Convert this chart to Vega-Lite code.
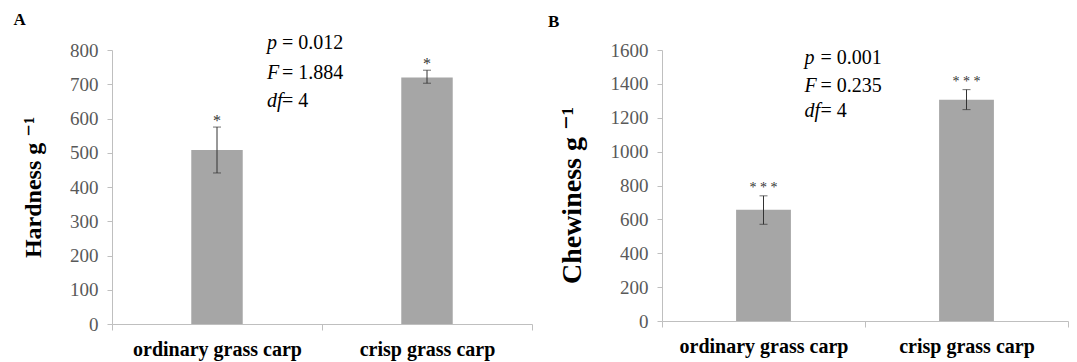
{
  "$schema": "https://vega.github.io/schema/vega-lite/v6.json",
  "background": "white",
  "padding": {"left": 13, "top": 11, "right": 5, "bottom": 2},
  "spacing": 15,
  "config": {
    "view": {"stroke": null},
    "font": "Liberation Serif, DejaVu Serif, serif",
    "title": {"font": "Liberation Serif, DejaVu Serif, serif", "fontSize": 17, "fontWeight": "bold", "anchor": "start", "frame": "bounds", "color": "black"},
    "axisX": {"domainColor": "#bfbfbf", "tickColor": "#bfbfbf", "tickSize": 6, "tickBand": "extent", "labelAngle": 0, "labelFont": "Liberation Serif, DejaVu Serif, serif", "labelFontWeight": "bold", "labelFontSize": 20, "labelColor": "black", "labelPadding": 9, "title": null, "grid": false},
    "axisY": {"domainColor": "#bfbfbf", "tickColor": "#bfbfbf", "tickSize": 5, "labelFont": "Liberation Serif, DejaVu Serif, serif", "labelFontSize": 19, "labelColor": "#595959", "labelPadding": 9, "labelOverlap": false, "titleFont": "Liberation Serif, DejaVu Serif, serif", "titleFontWeight": "bold", "titleColor": "black", "grid": false}
  },
  "hconcat": [
    {
      "title": {"text": "A", "dx": -8, "offset": 4},
      "width": 420,
      "height": 274,
      "data": {"values": [
        {"group": "ordinary grass carp", "mean": 508, "lo": 441, "hi": 575, "star": "*"},
        {"group": "crisp grass carp", "mean": 720, "lo": 703, "hi": 741, "star": "*"}
      ]},
      "encoding": {
        "x": {"field": "group", "type": "nominal", "sort": null, "scale": {"paddingInner": 0, "paddingOuter": 0}},
        "y": {"type": "quantitative", "scale": {"domain": [0, 800]}, "axis": {"values": [0,100,200,300,400,500,600,700,800], "tickCount": 9, "labelOverlap": false, "labelFontSize": 19, "labelFont": "Liberation Serif, DejaVu Serif, serif", "title": "Hardness g ⁻¹", "titleFontSize": 24, "titlePadding": 24}}
      },
      "layer": [
        {"mark": {"type": "bar", "color": "#a6a6a6", "width": {"band": 0.245}},
         "encoding": {"y": {"field": "mean", "type": "quantitative"}}},
        {"mark": {"type": "rule", "color": "#333333", "strokeWidth": 1},
         "encoding": {"y": {"field": "lo", "type": "quantitative"}, "y2": {"field": "hi"}}},
        {"mark": {"type": "tick", "color": "#333333", "size": 8, "thickness": 1, "orient": "horizontal"},
         "encoding": {"y": {"field": "lo", "type": "quantitative"}}},
        {"mark": {"type": "tick", "color": "#333333", "size": 8, "thickness": 1, "orient": "horizontal"},
         "encoding": {"y": {"field": "hi", "type": "quantitative"}}},
        {"mark": {"type": "text", "font": "Liberation Serif, DejaVu Serif, serif", "fontSize": 16, "color": "#333333", "baseline": "alphabetic", "dy": -1},
         "encoding": {"y": {"field": "hi", "type": "quantitative"}, "text": {"field": "star"}}},
        {"data": {"values": [
            {"sym": "p", "rest": "= 0.012", "pos": 819},
            {"sym": "F", "rest": "= 1.884", "pos": 734},
            {"sym": "df", "rest": "= 4", "pos": 652}
          ]},
         "mark": {"type": "text", "font": "Liberation Serif, DejaVu Serif, serif", "fontSize": 20, "fontStyle": "italic", "align": "left", "baseline": "middle", "dx": 50, "color": "black"},
         "encoding": {"x": {"datum": "ordinary grass carp", "type": "nominal"}, "y": {"field": "pos", "type": "quantitative"}, "text": {"field": "sym"}}},
        {"data": {"values": [
            {"sym": "p", "rest": "= 0.012", "pos": 819},
            {"sym": "F", "rest": "= 1.884", "pos": 734},
            {"sym": "df", "rest": "= 4", "pos": 652}
          ]},
         "mark": {"type": "text", "font": "Liberation Serif, DejaVu Serif, serif", "fontSize": 20, "align": "left", "baseline": "middle", "dx": 65, "color": "black"},
         "encoding": {"x": {"datum": "ordinary grass carp", "type": "nominal"}, "y": {"field": "pos", "type": "quantitative"}, "text": {"field": "rest"}}}
      ]
    },
    {
      "title": {"text": "B", "dx": -10, "offset": 10},
      "width": 406,
      "height": 271,
      "data": {"values": [
        {"group": "ordinary grass carp", "mean": 657, "lo": 571, "hi": 739, "star": "* * *"},
        {"group": "crisp grass carp", "mean": 1307, "lo": 1248, "hi": 1366, "star": "* * *"}
      ]},
      "encoding": {
        "x": {"field": "group", "type": "nominal", "sort": null, "scale": {"paddingInner": 0, "paddingOuter": 0}},
        "y": {"type": "quantitative", "scale": {"domain": [0, 1600]}, "axis": {"values": [0,200,400,600,800,1000,1200,1400,1600], "tickCount": 9, "format": "d", "labelOverlap": false, "labelFontSize": 19, "labelFont": "Liberation Serif, DejaVu Serif, serif", "title": "Chewiness g ⁻¹", "titleFontSize": 28, "titlePadding": 24, "titleY": 145}}
      },
      "layer": [
        {"mark": {"type": "bar", "color": "#a6a6a6", "width": {"band": 0.27}},
         "encoding": {"y": {"field": "mean", "type": "quantitative"}}},
        {"mark": {"type": "rule", "color": "#333333", "strokeWidth": 1},
         "encoding": {"y": {"field": "lo", "type": "quantitative"}, "y2": {"field": "hi"}}},
        {"mark": {"type": "tick", "color": "#333333", "size": 8, "thickness": 1, "orient": "horizontal"},
         "encoding": {"y": {"field": "lo", "type": "quantitative"}}},
        {"mark": {"type": "tick", "color": "#333333", "size": 8, "thickness": 1, "orient": "horizontal"},
         "encoding": {"y": {"field": "hi", "type": "quantitative"}}},
        {"mark": {"type": "text", "font": "Liberation Serif, DejaVu Serif, serif", "fontSize": 14, "color": "#333333", "baseline": "alphabetic", "dy": -4},
         "encoding": {"y": {"field": "hi", "type": "quantitative"}, "text": {"field": "star"}}},
        {"data": {"values": [
            {"sym": "p", "rest": "= 0.001", "pos": 1555},
            {"sym": "F", "rest": "= 0.235", "pos": 1385},
            {"sym": "df", "rest": "= 4", "pos": 1238}
          ]},
         "mark": {"type": "text", "font": "Liberation Serif, DejaVu Serif, serif", "fontSize": 20, "fontStyle": "italic", "align": "left", "baseline": "middle", "dx": 41, "color": "black"},
         "encoding": {"x": {"datum": "ordinary grass carp", "type": "nominal"}, "y": {"field": "pos", "type": "quantitative"}, "text": {"field": "sym"}}},
        {"data": {"values": [
            {"sym": "p", "rest": "= 0.001", "pos": 1555},
            {"sym": "F", "rest": "= 0.235", "pos": 1385},
            {"sym": "df", "rest": "= 4", "pos": 1238}
          ]},
         "mark": {"type": "text", "font": "Liberation Serif, DejaVu Serif, serif", "fontSize": 20, "align": "left", "baseline": "middle", "dx": 57, "color": "black"},
         "encoding": {"x": {"datum": "ordinary grass carp", "type": "nominal"}, "y": {"field": "pos", "type": "quantitative"}, "text": {"field": "rest"}}}
      ]
    }
  ]
}
